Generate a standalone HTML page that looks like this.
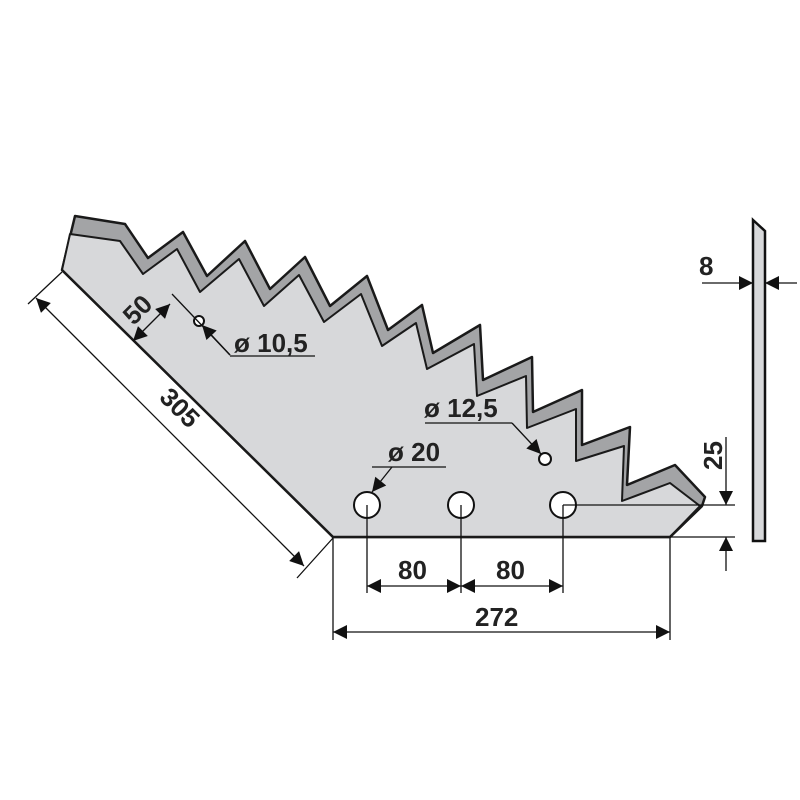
<!DOCTYPE html>
<html><head><style>
html,body{margin:0;padding:0;background:#fff}
svg{display:block}
text{font-family:"Liberation Sans",sans-serif;font-weight:bold;font-size:26px;fill:#222}
</style></head><body>
<svg width="800" height="800" viewBox="0 0 800 800" xmlns="http://www.w3.org/2000/svg">
<defs>
<marker id="a" viewBox="0 0 10 10" refX="10" refY="5" markerWidth="24" markerHeight="14" markerUnits="userSpaceOnUse" orient="auto-start-reverse"><path d="M0,0 L10,5 L0,10 z" fill="#111"/></marker>
</defs>
<polygon fill="#a3a4a6" stroke="#1a1a1a" stroke-width="2.5" stroke-linejoin="round"
points="62,270 75,216 125,224 148,258 183,232 207,276 245,241 270,289 305,257 330,306 367,276 388,330 422,305 433,353 480,325 483,380 532,357 533,412 582,390 582,445 630,427 627,485 675,465 705,497 702,506 670,537 333,537"/>
<polygon fill="#d7d8da" stroke="#1a1a1a" stroke-width="2" stroke-linejoin="round"
points="62,270 70,234 120,241 143,274 177,249 200,292 239,259 264,306 299,275 324,322 361,294 382,346 416,323 427,369 474,344 477,396 526,376 527,428 576,409 576,461 624,446 622,501 670,483 700,506 670,537 333,537"/>
<polyline points="62,270 333,537 670,537 702,506" fill="none" stroke="#1a1a1a" stroke-width="2.5"/>
<g fill="#fff" stroke="#111" stroke-width="2">
<circle cx="199" cy="321" r="5"/>
<circle cx="545" cy="459" r="6"/>
<circle cx="367" cy="505" r="13"/>
<circle cx="461" cy="505" r="13"/>
<circle cx="563" cy="505" r="13"/>
</g>
<g stroke="#111" stroke-width="1.3" fill="none">
<line x1="62" y1="272" x2="28" y2="304"/>
<line x1="333" y1="538" x2="297" y2="578"/>
<line x1="36" y1="298" x2="304" y2="566" marker-start="url(#a)" marker-end="url(#a)"/>
<line x1="172" y1="294" x2="230" y2="355"/>
<line x1="230" y1="356" x2="315" y2="356"/>
<line x1="133" y1="341" x2="170" y2="304" marker-start="url(#a)" marker-end="url(#a)"/>
<line x1="230" y1="355" x2="202" y2="325" marker-end="url(#a)"/>
<line x1="425" y1="423" x2="512" y2="423"/>
<line x1="512" y1="423" x2="541" y2="454" marker-end="url(#a)"/>
<line x1="372" y1="467" x2="446" y2="467"/>
<line x1="392" y1="467" x2="372" y2="492" marker-end="url(#a)"/>
<line x1="367" y1="505" x2="367" y2="593"/>
<line x1="461" y1="505" x2="461" y2="593"/>
<line x1="563" y1="505" x2="563" y2="593"/>
<line x1="333" y1="538" x2="333" y2="640"/>
<line x1="670" y1="538" x2="670" y2="640"/>
<line x1="367" y1="586" x2="461" y2="586" marker-start="url(#a)" marker-end="url(#a)"/>
<line x1="461" y1="586" x2="563" y2="586" marker-start="url(#a)" marker-end="url(#a)"/>
<line x1="333" y1="632" x2="670" y2="632" marker-start="url(#a)" marker-end="url(#a)"/>
<line x1="563" y1="505" x2="735" y2="505"/>
<line x1="670" y1="537" x2="735" y2="537"/>
<line x1="726" y1="437" x2="726" y2="505" marker-end="url(#a)"/>
<line x1="726" y1="571" x2="726" y2="537" marker-end="url(#a)"/>
<line x1="702" y1="283" x2="753" y2="283" marker-end="url(#a)"/>
<line x1="797" y1="283" x2="765" y2="283" marker-end="url(#a)"/>
</g>
<polygon points="753,220 765,231 765,541 753,541" fill="#d7d8da" stroke="#111" stroke-width="2.5"/>
<text x="119" y="319" transform="rotate(-45 135 305)">50</text>
<text x="234" y="352">ø 10,5</text>
<text x="158" y="421" transform="rotate(45 185 410)">305</text>
<text x="424" y="417">ø 12,5</text>
<text x="388" y="461">ø 20</text>
<text x="398" y="579">80</text>
<text x="496" y="579">80</text>
<text x="475" y="626">272</text>
<text x="699" y="275">8</text>
<text x="697" y="465" transform="rotate(-90 712 455)">25</text>
</svg>
</body></html>
